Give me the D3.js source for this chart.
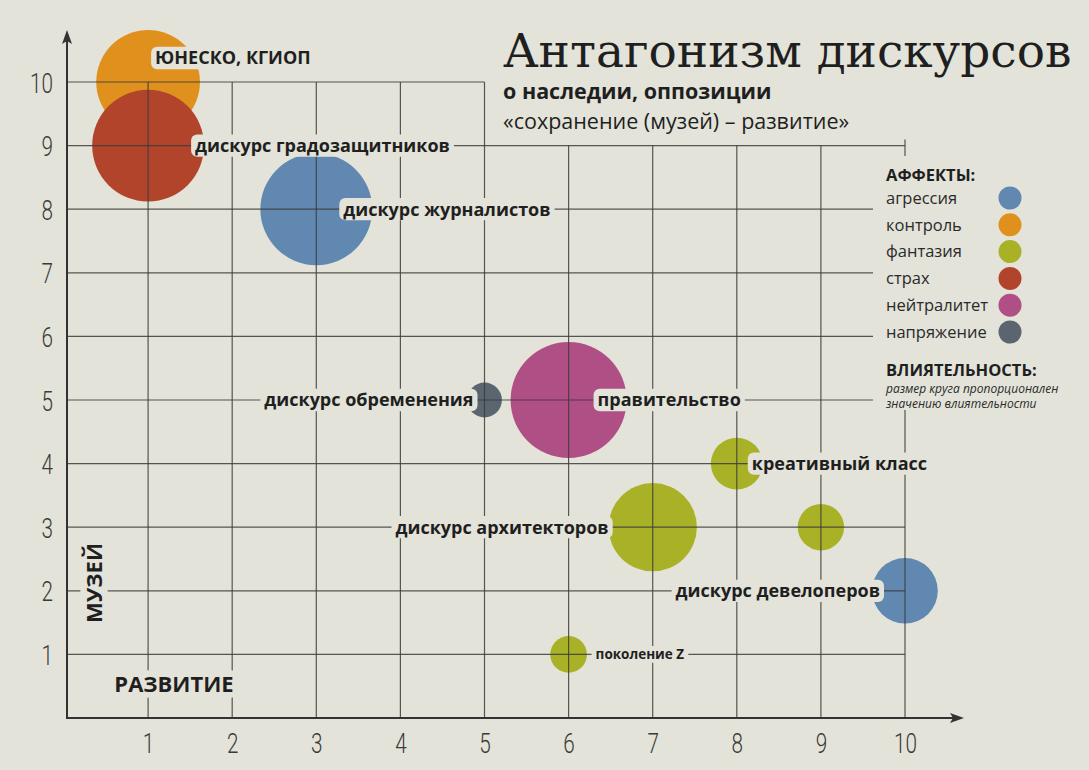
<!DOCTYPE html>
<html>
<head>
<meta charset="utf-8">
<script src="https://cdn.jsdelivr.net/npm/d3@7"></script>
<style>
  body { margin: 0; background: #e3e3d9; }
  svg { display: block; }
</style>
</head>
<body>
<div id="chart"></div>
<script>
// data
const names = ["ЮНЕСКО, КГИОП", "дискурс градозащитников", "дискурс журналистов", "дискурс обременения",
  "правительство", "креативный класс", "дискурс архитекторов", "", "дискурс девелоперов", "поколение Z"];
const devValues = [1, 1, 3, 5, 6, 8, 7, 9, 10, 6];      // развитие (x)
const museumValues = [10, 9, 8, 5, 5, 4, 3, 3, 2, 1];    // музей (y)
const affects = ["контроль", "страх", "агрессия", "напряжение", "нейтралитет",
  "фантазия", "фантазия", "фантазия", "агрессия", "фантазия"];
const influence = [8, 9.3, 9.3, 0.9, 10, 2, 5.8, 1.6, 3.2, 1];
const affectNames = ["агрессия", "контроль", "фантазия", "страх", "нейтралитет", "напряжение"];
const affectColors = ["#6088b0", "#e0911d", "#a9b227", "#b2442c", "#b04f85", "#5b6570"];
const ticks = [1, 2, 3, 4, 5, 6, 7, 8, 9, 10];

// label placement: side of bubble, offsets in px
const labelLayout = [
  { side: "r", dx: 7, dy: -24 }, { side: "r", dx: 47, dy: 0 }, { side: "r", dx: 27, dy: 0 },
  { side: "l", dx: -11, dy: 0 }, { side: "r", dx: 29, dy: 0 }, { side: "r", dx: 15, dy: 0 },
  { side: "l", dx: -44, dy: 0 }, null, { side: "l", dx: -25, dy: 0 }, { side: "r", dx: 27, dy: 0, small: true }
];

let bg = "#e3e3d9";
let width = 1089, height = 770;

let svg = d3.select("#chart").append("svg")
  .attr("width", width)
  .attr("height", height);

svg.append("rect").attr("width", width).attr("height", height).attr("fill", bg);

let x = d3.scaleLinear().domain([0, 10]).range([64, 905]);
let y = d3.scaleLinear().domain([0, 10]).range([718, 82]);
let r = d3.scaleSqrt().domain([0, 10]).range([0, 58]);
let color = d3.scaleOrdinal().domain(affectNames).range(affectColors);
let axisX = 67;

let data = names.map((n, i) => ({
  name: n, x: devValues[i], y: museumValues[i], affect: affects[i], inf: influence[i], lab: labelLayout[i]
}));

// bubbles (red under orange, so keep order)
svg.append("g").selectAll("circle")
  .data(data)
  .join("circle")
  .attr("cx", d => x(d.x))
  .attr("cy", d => y(d.y))
  .attr("r", d => r(d.inf))
  .attr("fill", d => color(d.affect));

// grid: top-right corner left open for the title
let grid = svg.append("g")
  .attr("stroke", "#3c3c3c")
  .attr("stroke-opacity", 0.85)
  .attr("stroke-width", 1.2);

grid.selectAll(".h")
  .data(ticks)
  .join("line")
  .attr("x1", axisX)
  .attr("x2", d => d === 10 ? x(5) : x(10))
  .attr("y1", d => y(d))
  .attr("y2", d => y(d));

grid.selectAll(".v")
  .data(ticks)
  .join("line")
  .attr("x1", d => x(d))
  .attr("x2", d => x(d))
  .attr("y1", y(0))
  .attr("y2", d => d <= 5 ? y(10) : (d === 10 ? y(9) - 6 : y(9)));

// axes with arrows
let axisCol = "#333";
svg.append("line").attr("x1", axisX).attr("x2", 955).attr("y1", y(0)).attr("y2", y(0))
  .attr("stroke", axisCol).attr("stroke-width", 2);
svg.append("line").attr("x1", axisX).attr("x2", axisX).attr("y1", y(0) + 1).attr("y2", 38)
  .attr("stroke", axisCol).attr("stroke-width", 2);
svg.append("path").attr("d", `M964,${y(0)} L950,${y(0) - 5} L953,${y(0)} L950,${y(0) + 5} Z`).attr("fill", axisCol);
svg.append("path").attr("d", `M${axisX},30 L${axisX - 5},44 L${axisX},41 L${axisX + 5},44 Z`).attr("fill", axisCol);

// thin condensed tick numbers
let tickFont = "Roboto, 'Liberation Sans', sans-serif";

let xAxis = svg.append("g")
  .attr("transform", `translate(0,${y(0)})`)
  .call(d3.axisBottom(x).tickValues(ticks).tickSize(0).tickPadding(15));
let yAxis = svg.append("g")
  .attr("transform", `translate(${axisX},0)`)
  .call(d3.axisLeft(y).tickValues(ticks).tickSize(0).tickPadding(19));
[xAxis, yAxis].forEach(a => {
  a.select(".domain").remove();
  a.selectAll("text")
    .attr("font-family", tickFont)
    .attr("font-weight", 300)
    .attr("font-size", 28)
    .attr("fill", "#3a3a3a")
    .attr("transform", "scale(0.74,1)");
});
yAxis.selectAll("text").attr("dy", "0.36em");

// legend block covers grid behind it
svg.append("rect").attr("x", 873).attr("y", 156).attr("width", 216).attr("height", 254).attr("fill", bg);

// labels with background pads
let sans = "'Open Sans', 'Noto Sans', sans-serif";

function padLabel(g, tx, ty, text, size, anchor, weight) {
  let t = g.append("text")
    .attr("x", tx)
    .attr("y", ty)
    .attr("dy", "0.35em")
    .attr("text-anchor", anchor)
    .attr("font-family", sans)
    .attr("font-weight", weight || 700)
    .attr("font-size", size)
    .attr("fill", "#1f1f1f")
    .text(text);
  let b = t.node().getBBox();
  g.insert("rect", "text")
    .attr("x", b.x - 4)
    .attr("y", ty - size * 0.62)
    .attr("width", b.width + 8)
    .attr("height", size * 1.24)
    .attr("rx", 6)
    .attr("fill", bg);
  return t;
}

data.forEach(d => {
  if (!d.lab) return;
  let g = svg.append("g");
  padLabel(g, x(d.x) + d.lab.dx, y(d.y) + d.lab.dy, d.name,
    d.lab.small ? 13.5 : 18, d.lab.side === "r" ? "start" : "end");
});

// axis titles
let gm = svg.append("g").attr("transform", `translate(94,583) rotate(-90)`);
padLabel(gm, 0, 0, "МУЗЕЙ", 22, "middle");
padLabel(svg.append("g"), 174, 684, "РАЗВИТИЕ", 22, "middle");

// title block
svg.append("text")
  .attr("x", 503).attr("y", 67)
  .attr("font-family", "'DejaVu Serif', serif")
  .attr("font-size", 47)
  .attr("fill", "#1f1f1f")
  .text("Антагонизм дискурсов");
svg.append("text")
  .attr("x", 503).attr("y", 99)
  .attr("font-family", sans).attr("font-weight", 700).attr("font-size", 21.5)
  .attr("fill", "#1f1f1f")
  .text("о наследии, оппозиции");
svg.append("text")
  .attr("x", 503).attr("y", 129)
  .attr("font-family", sans).attr("font-size", 21.5)
  .attr("fill", "#1f1f1f")
  .text("«сохранение (музей) – развитие»");

// legend
let lg = svg.append("g");
lg.append("text")
  .attr("x", 886).attr("y", 181)
  .attr("font-family", sans).attr("font-weight", 700).attr("font-size", 16.5)
  .attr("fill", "#1f1f1f")
  .text("АФФЕКТЫ:");
let items = lg.selectAll(".item")
  .data(affectNames)
  .join("g")
  .attr("transform", (d, i) => `translate(886,${198 + i * 26.8})`);
items.append("text")
  .attr("dy", "0.35em")
  .attr("font-family", sans).attr("font-size", 16.5)
  .attr("fill", "#2a2a2a")
  .text(d => d);
items.append("circle")
  .attr("cx", 124)
  .attr("r", 11.5)
  .attr("fill", d => color(d));

lg.append("text")
  .attr("x", 886).attr("y", 376)
  .attr("font-family", sans).attr("font-weight", 700).attr("font-size", 16.5)
  .attr("fill", "#1f1f1f")
  .text("ВЛИЯТЕЛЬНОСТЬ:");
lg.append("text")
  .attr("x", 886).attr("y", 393)
  .attr("font-family", sans).attr("font-style", "italic").attr("font-size", 12)
  .attr("fill", "#2a2a2a")
  .text("размер круга пропорционален");
lg.append("text")
  .attr("x", 886).attr("y", 408)
  .attr("font-family", sans).attr("font-style", "italic").attr("font-size", 12)
  .attr("fill", "#2a2a2a")
  .text("значению влиятельности");
</script>
</body>
</html>
